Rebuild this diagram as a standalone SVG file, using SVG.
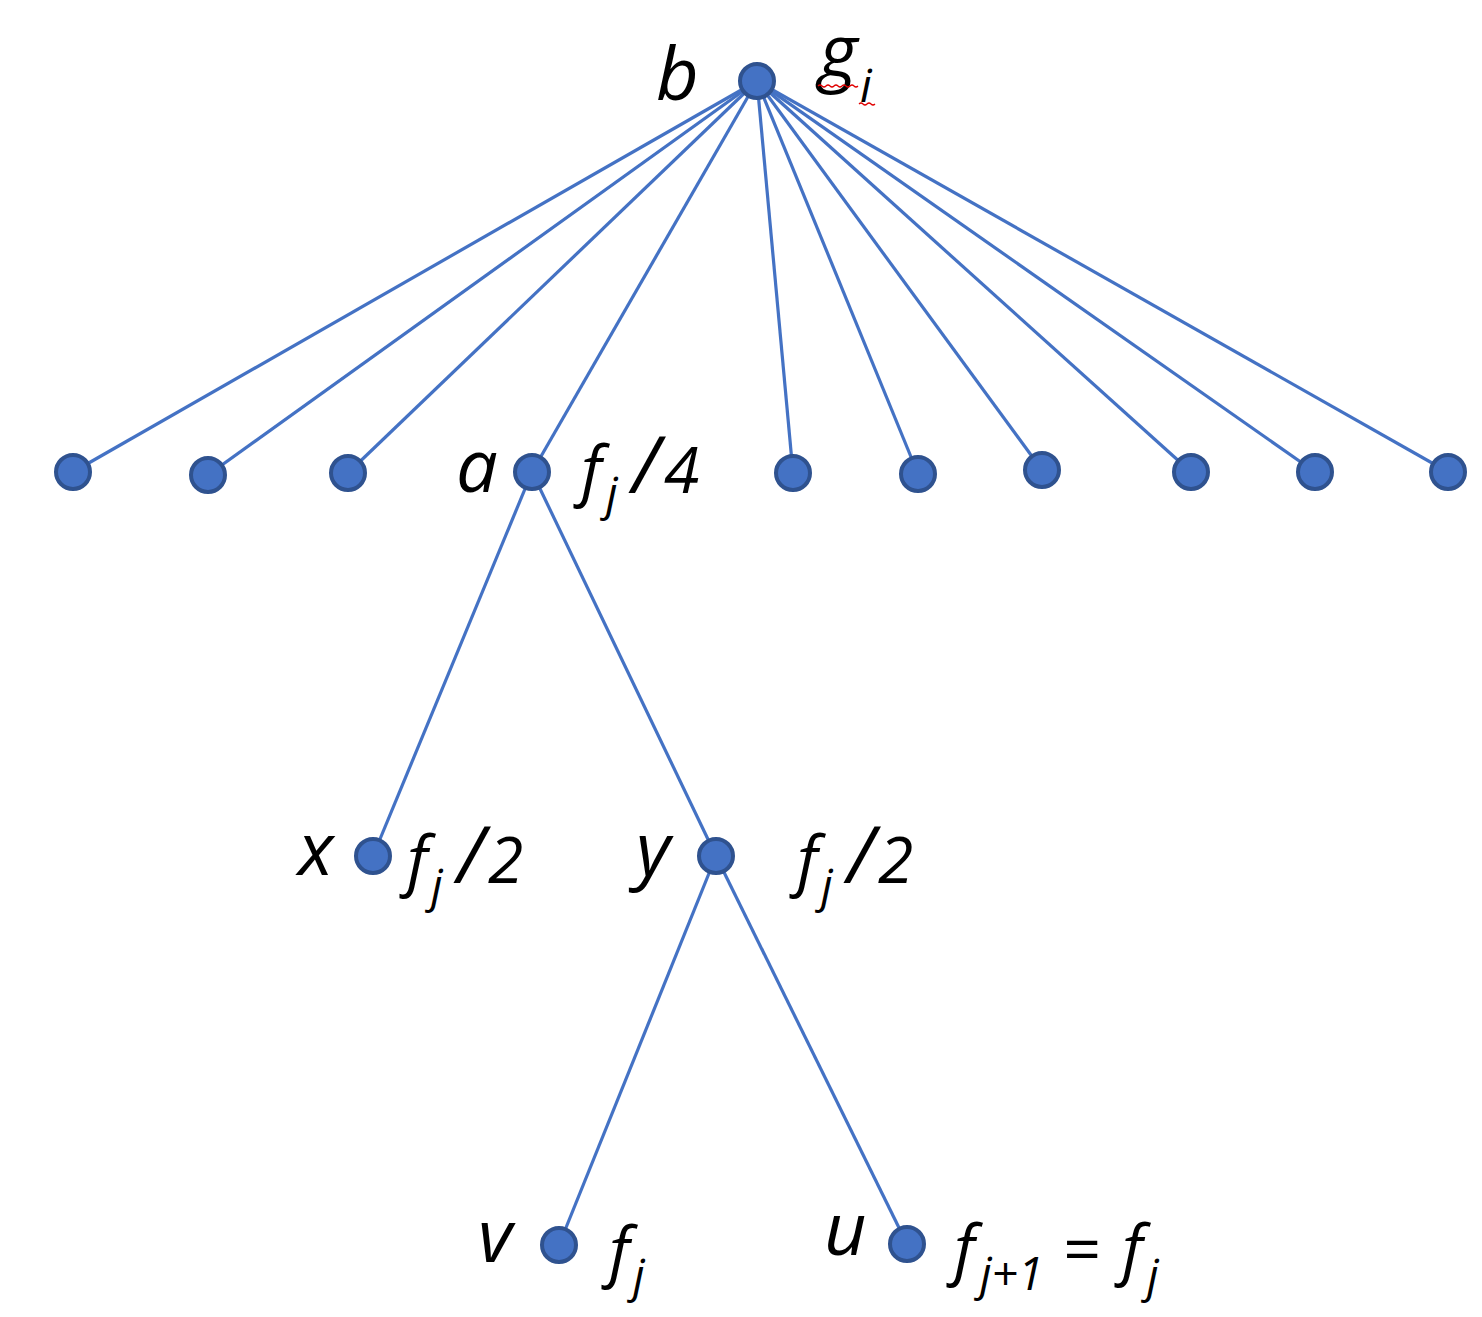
<svg xmlns="http://www.w3.org/2000/svg" width="1482" height="1317" viewBox="0 0 1482 1317">
<style>
.e{stroke:#4472C4;stroke-width:3.2;fill:none}
.n{fill:#4472C4;stroke:#2F528F;stroke-width:4}
.t{font-family:"Open Sans","Noto Sans",sans-serif;font-style:italic;fill:#000}
.v{font-size:74px}
.f{font-size:66px}
.d{font-size:64px}
.sl{font-size:78px}
.s{font-size:46px}
.sq{stroke:#E00000;stroke-width:1.2;fill:none}
</style>
<rect width="1482" height="1317" fill="#fff"/>
<g id="connectors">
<line class="e" x1="757" y1="81" x2="73" y2="472"/>
<line class="e" x1="757" y1="81" x2="208" y2="475"/>
<line class="e" x1="757" y1="81" x2="348" y2="473"/>
<line class="e" x1="757" y1="81" x2="532" y2="472"/>
<line class="e" x1="757" y1="81" x2="793" y2="473"/>
<line class="e" x1="757" y1="81" x2="918" y2="474"/>
<line class="e" x1="757" y1="81" x2="1042" y2="470"/>
<line class="e" x1="757" y1="81" x2="1191" y2="472"/>
<line class="e" x1="757" y1="81" x2="1315" y2="472"/>
<line class="e" x1="757" y1="81" x2="1448" y2="472"/>
<line class="e" x1="532" y1="472" x2="373" y2="856"/>
<line class="e" x1="532" y1="472" x2="716" y2="856"/>
<line class="e" x1="716" y1="856" x2="559" y2="1245"/>
<line class="e" x1="716" y1="856" x2="907" y2="1244"/>
</g>
<g id="node-b"><circle class="n" cx="757" cy="81" r="17"/>
<text class="t v" x="656" y="100">b</text>
<text class="t v" x="819" y="77">g</text><text class="t s" x="860" y="102">i</text>
<path class="sq" d="M818 86 q2 -2 4 0 t4 0 t4 0 t4 0 t4 0 t4 0 t4 0 t4 0 t4 0 t4 0"/>
<path class="sq" d="M859 104 q2 -2 4 0 t4 0 t4 0 t4 0"/>
</g>
<g id="node-l1"><circle class="n" cx="73" cy="472" r="17"/></g>
<g id="node-l2"><circle class="n" cx="208" cy="475" r="17"/></g>
<g id="node-l3"><circle class="n" cx="348" cy="473" r="17"/></g>
<g id="node-a"><circle class="n" cx="532" cy="472" r="17"/>
<text class="t v" x="456" y="492">a</text>
<text class="t f" x="581" y="493">f</text><text class="t s" x="606" y="510">j</text><text class="t sl" x="632" y="493">/</text><text class="t d" x="664" y="493">4</text>
</g>
<g id="node-l5"><circle class="n" cx="793" cy="473" r="17"/></g>
<g id="node-l6"><circle class="n" cx="918" cy="474" r="17"/></g>
<g id="node-l7"><circle class="n" cx="1042" cy="470" r="17"/></g>
<g id="node-l8"><circle class="n" cx="1191" cy="472" r="17"/></g>
<g id="node-l9"><circle class="n" cx="1315" cy="472" r="17"/></g>
<g id="node-l10"><circle class="n" cx="1448" cy="472" r="17"/></g>
<g id="node-x"><circle class="n" cx="373" cy="856" r="17"/>
<text class="t v" x="298" y="875">x</text>
<text class="t f" x="407" y="883">f</text><text class="t s" x="431" y="902">j</text><text class="t sl" x="457" y="883">/</text><text class="t d" x="488" y="883">2</text>
</g>
<g id="node-y"><circle class="n" cx="716" cy="856" r="17"/>
<text class="t v" x="636" y="875">y</text>
<text class="t f" x="797" y="883">f</text><text class="t s" x="821" y="902">j</text><text class="t sl" x="847" y="883">/</text><text class="t d" x="878" y="883">2</text>
</g>
<g id="node-v"><circle class="n" cx="559" cy="1245" r="17"/>
<text class="t v" x="478" y="1262">v</text>
<text class="t f" x="609" y="1274">f</text><text class="t s" x="633" y="1292">j</text>
</g>
<g id="node-u"><circle class="n" cx="907" cy="1244" r="17"/>
<text class="t v" x="824" y="1255">u</text>
<text class="t f" x="954" y="1272">f</text><text class="t s" x="980" y="1290">j+1</text><text class="t f" x="1062" y="1272">=</text>
<text class="t f" x="1122" y="1272">f</text><text class="t s" x="1147" y="1292">j</text>
</g>
</svg>
